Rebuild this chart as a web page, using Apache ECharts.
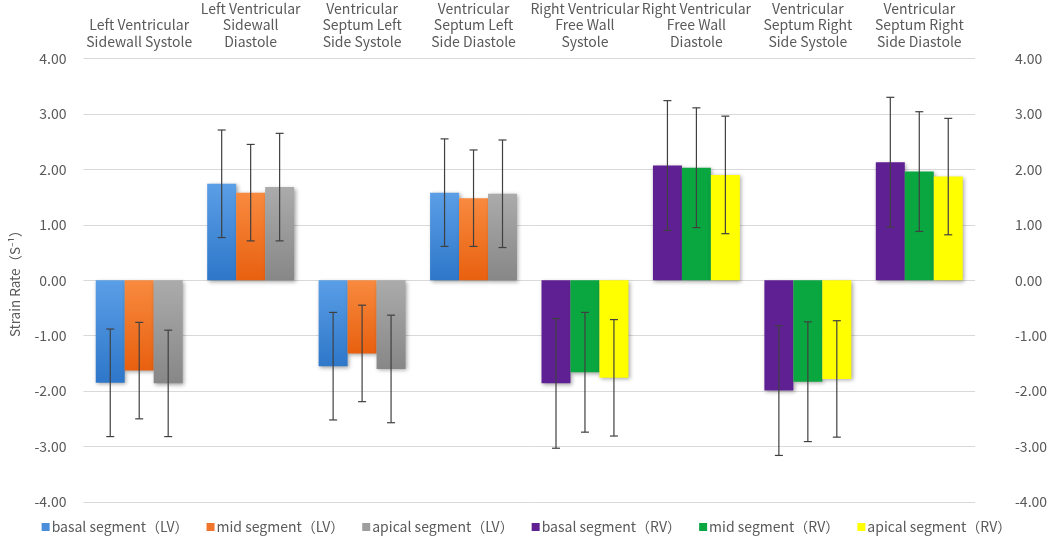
<!DOCTYPE html>
<html>
<head>
<meta charset="utf-8">
<script src="https://cdn.jsdelivr.net/npm/echarts@6/dist/echarts.min.js"></script>
<style>
html,body{margin:0;padding:0;background:#fff;}
#chart{width:1053px;height:545px;}
</style>
</head>
<body>
<div id="chart"></div>
<script>
// ---- data ----
var categories = [
  "Left Ventricular\nSidewall Systole",
  "Left Ventricular\nSidewall\nDiastole",
  "Ventricular\nSeptum Left\nSide Systole",
  "Ventricular\nSeptum Left\nSide Diastole",
  "Right Ventricular\nFree Wall\nSystole",
  "Right Ventricular\nFree Wall\nDiastole",
  "Ventricular\nSeptum Right\nSide Systole",
  "Ventricular\nSeptum Right\nSide Diastole"
];
var seriesNames = [
  "basal segment（LV）", "mid segment（LV）", "apical segment（LV）",
  "basal segment（RV）", "mid segment（RV）", "apical segment（RV）"
];
// LV series: values for the first 4 categories
var lvBasalMean  = [-1.85, 1.74, -1.55, 1.58];
var lvMidMean    = [-1.63, 1.58, -1.32, 1.48];
var lvApicalMean = [-1.86, 1.68, -1.60, 1.56];
var lvBasalSD    = [0.97, 0.97, 0.97, 0.97];
var lvMidSD      = [0.87, 0.87, 0.87, 0.87];
var lvApicalSD   = [0.96, 0.97, 0.97, 0.97];
// RV series: values for the last 4 categories
var rvBasalMean  = [-1.86, 2.07, -1.99, 2.13];
var rvMidMean    = [-1.66, 2.03, -1.83, 1.96];
var rvApicalMean = [-1.76, 1.90, -1.78, 1.87];
var rvBasalSD    = [1.17, 1.17, 1.17, 1.17];
var rvMidSD      = [1.08, 1.08, 1.08, 1.08];
var rvApicalSD   = [1.05, 1.06, 1.05, 1.05];
var yTicks = { min: -4, max: 4, interval: 1 };

// ---- styles ----
var FONT = "'Noto Sans CJK SC','Noto Sans',sans-serif";
var TXT = '#595959';
function grad(top, bottom) {
  return new echarts.graphic.LinearGradient(0, 0, 0, 1, [
    { offset: 0, color: top }, { offset: 1, color: bottom }
  ]);
}
var colors = [
  grad('#5a9ee6', '#2e77c9'),
  grad('#f88a3f', '#e8600f'),
  grad('#ababab', '#878787'),
  grad('#5f2094', '#5f2094'),
  grad('#0aa640', '#0aa640'),
  grad('#ffff00', '#ffff00')
];
var legendColors = ['#4a8fdc', '#f0742a', '#9e9e9e', '#5f2094', '#0aa640', '#ffff00'];

var nulls = [null, null, null, null];
var barData = [
  lvBasalMean.concat(nulls), lvMidMean.concat(nulls), lvApicalMean.concat(nulls),
  nulls.concat(rvBasalMean), nulls.concat(rvMidMean), nulls.concat(rvApicalMean)
];
var stacks = ['b', 'm', 'a', 'b', 'm', 'a'];

var errData = [];
var groups = [
  [lvBasalMean, lvBasalSD, 0, 0], [lvMidMean, lvMidSD, 1, 0], [lvApicalMean, lvApicalSD, 2, 0],
  [rvBasalMean, rvBasalSD, 0, 4], [rvMidMean, rvMidSD, 1, 4], [rvApicalMean, rvApicalSD, 2, 4]
];
groups.forEach(function (g) {
  for (var i = 0; i < g[0].length; i++) {
    errData.push([i + g[3], g[0][i], g[1][i], g[2]]);
  }
});

var CAT_GAP = 0.22;
var series = seriesNames.map(function (n, k) {
  return {
    name: n, type: 'bar', stack: stacks[k], data: barData[k],
    barCategoryGap: (CAT_GAP * 100) + '%', barGap: '0%',
    itemStyle: {
      color: colors[k],
      shadowColor: 'rgba(0,0,0,0.35)', shadowBlur: 4, shadowOffsetX: 1.5, shadowOffsetY: 1.5
    }
  };
});
series.push({
  type: 'custom', name: 'err', data: errData, z: 10,
  encode: { x: 0, y: 1 },
  renderItem: function (params, api) {
    var cat = api.value(0), mean = api.value(1), sd = api.value(2), k = api.value(3);
    var band = api.size([1, 0])[0];
    var bw = band * (1 - CAT_GAP) / 3;
    var c = api.coord([cat, mean]);
    var x = c[0] + (k - 1) * bw;
    var yTop = api.coord([cat, mean + sd])[1];
    var yBot = api.coord([cat, mean - sd])[1];
    var cap = 4;
    var st = { stroke: '#404040', lineWidth: 1.2 };
    return {
      type: 'group',
      children: [
        { type: 'line', shape: { x1: x, y1: yTop, x2: x, y2: yBot }, style: st },
        { type: 'line', shape: { x1: x - cap, y1: yTop, x2: x + cap, y2: yTop }, style: st },
        { type: 'line', shape: { x1: x - cap, y1: yBot, x2: x + cap, y2: yBot }, style: st }
      ]
    };
  }
});

var yCommon = {
  type: 'value', min: yTicks.min, max: yTicks.max, interval: yTicks.interval,
  axisLine: { show: false }, axisTick: { show: false },
  axisLabel: {
    color: TXT, fontFamily: FONT, fontSize: 14,
    formatter: function (v) { return v.toFixed(2); }
  }
};

var chart = echarts.init(document.getElementById('chart'));
chart.setOption({
  animation: false,
  backgroundColor: '#fff',
  textStyle: { fontFamily: FONT },
  grid: { left: 78, right: 78, top: 57, bottom: 43 },
  xAxis: {
    type: 'category', data: categories, position: 'top',
    axisLine: { show: false }, axisTick: { show: false },
    axisLabel: {
      interval: 0, color: TXT, fontFamily: FONT, fontSize: 14, lineHeight: 16.5,
      margin: 9
    }
  },
  yAxis: [
    Object.assign({}, yCommon, {
      position: 'left',
      name: 'Strain Rate（S⁻¹）', nameLocation: 'middle', nameGap: 62,
      nameTextStyle: { color: TXT, fontFamily: FONT, fontSize: 13.5 },
      splitLine: { lineStyle: { color: '#d9d9d9', width: 1 } },
      axisLabel: Object.assign({}, yCommon.axisLabel, { margin: 17 })
    }),
    Object.assign({}, yCommon, {
      position: 'right', splitLine: { show: false },
      axisLabel: Object.assign({}, yCommon.axisLabel, { margin: 40 })
    })
  ],
  legend: {
    bottom: 6, left: 'center', itemWidth: 8, itemHeight: 8, itemGap: 18,
    icon: 'rect',
    data: seriesNames.map(function (n, k) {
      return { name: n, itemStyle: { color: legendColors[k], shadowBlur: 0, shadowOffsetX: 0, shadowOffsetY: 0 } };
    }),
    textStyle: { color: TXT, fontFamily: FONT, fontSize: 14, padding: [0, 0, 0, -3] }
  },
  series: series
});
</script>
</body>
</html>
